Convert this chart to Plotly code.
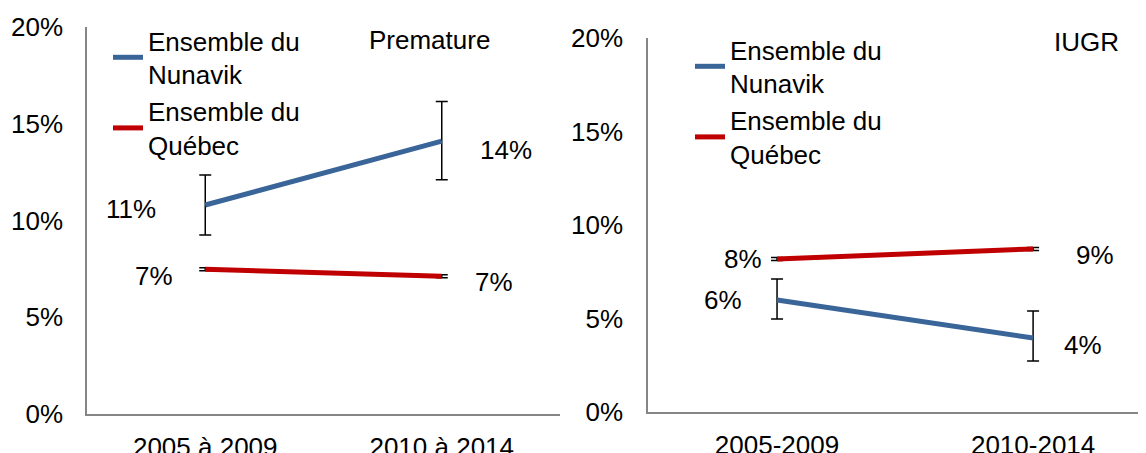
import plotly.graph_objects as go

# ---- data ----
periods_left = ["2005 à 2009", "2010 à 2014"]
periods_right = ["2005-2009", "2010-2014"]

prem_nunavik = [0.108, 0.141]
prem_nunavik_low = [0.0925, 0.121]
prem_nunavik_high = [0.1235, 0.1615]
prem_quebec = [0.0748, 0.0712]
prem_quebec_low = [0.0740, 0.0704]
prem_quebec_high = [0.0756, 0.0720]

iugr_nunavik = [0.0599, 0.0396]
iugr_nunavik_low = [0.0497, 0.0273]
iugr_nunavik_high = [0.0711, 0.0540]
iugr_quebec = [0.0818, 0.0872]
iugr_quebec_low = [0.0810, 0.0864]
iugr_quebec_high = [0.0826, 0.0880]

name_nunavik = "Ensemble du<br>Nunavik"
name_quebec = "Ensemble du<br>Québec"

BLUE = "#3A6598"
RED = "#C00000"
FONT = "Liberation Sans, Arial, sans-serif"
FS = 26

# page body has an 8px margin: figure sized to fill the rest of the window
OFF = 8
W, H = 1146 - OFF, 453 - OFF


def px(sx):
    return (sx - OFF) / W


def py(sy):
    return 1 - (sy - OFF) / H


fig = go.Figure()


def add_series(x, y, lo, hi, color, name, xa, ya, legend):
    fig.add_trace(go.Scatter(
        x=x, y=y, mode="lines", name=name,
        line=dict(color=color, width=5),
        error_y=dict(type="data", symmetric=False,
                     array=[h - v for h, v in zip(hi, y)],
                     arrayminus=[v - l for l, v in zip(lo, y)],
                     color="black", thickness=1.5, width=6),
        xaxis=xa, yaxis=ya, legend=legend, hoverinfo="skip",
    ))


add_series(periods_left, prem_nunavik, prem_nunavik_low, prem_nunavik_high, BLUE, name_nunavik, "x", "y", "legend")
add_series(periods_left, prem_quebec, prem_quebec_low, prem_quebec_high, RED, name_quebec, "x", "y", "legend")
add_series(periods_right, iugr_nunavik, iugr_nunavik_low, iugr_nunavik_high, BLUE, name_nunavik, "x2", "y2", "legend2")
add_series(periods_right, iugr_quebec, iugr_quebec_low, iugr_quebec_high, RED, name_quebec, "x2", "y2", "legend2")

# data labels (offsets are styling)
labels = [
    (periods_left, prem_nunavik, "x", "y", [(-47, "right", -4), (36, "left", -9)]),
    (periods_left, prem_quebec, "x", "y", [(-30, "right", -7), (31, "left", -6)]),
    (periods_right, iugr_nunavik, "x2", "y2", [(-33, "right", 0), (29, "left", -7)]),
    (periods_right, iugr_quebec, "x2", "y2", [(-13, "right", 0), (41, "left", -6)]),
]
for xs, ys, xa, ya, offs in labels:
    for xv, yv, (dx, anchor, dy) in zip(xs, ys, offs):
        fig.add_annotation(x=xv, y=yv, xref=xa, yref=ya, text=f"{round(yv * 100)}%",
                           showarrow=False, xshift=dx, yshift=dy, xanchor=anchor,
                           yanchor="middle", font=dict(family=FONT, size=FS, color="black"))

axis_common = dict(showgrid=False, zeroline=False, showline=True, linecolor="#868686",
                   linewidth=1.5, ticks="", automargin=False,
                   tickfont=dict(family=FONT, size=FS, color="black"))

fig.update_layout(
    width=W, height=H,
    margin=dict(l=0, r=0, t=0, b=0, pad=0, autoexpand=False),
    paper_bgcolor="white", plot_bgcolor="white",
    font=dict(family=FONT, size=FS, color="black"),
    xaxis=dict(domain=[px(87), px(560)], anchor="y", type="category",
               range=[-0.5, 1.5], ticklabelstandoff=9, **axis_common),
    yaxis=dict(domain=[py(414), py(27)], anchor="x", range=[0, 0.2],
               tickvals=[0, 0.05, 0.1, 0.15, 0.2], tickformat=".0%",
               ticklabelstandoff=17, **axis_common),
    xaxis2=dict(domain=[px(648), 1.0], anchor="y2", type="category",
                range=[-0.504, 1.441], ticklabelstandoff=9, **axis_common),
    yaxis2=dict(domain=[py(412), py(38)], anchor="x2", range=[0, 0.2],
                tickvals=[0, 0.05, 0.1, 0.15, 0.2], tickformat=".0%",
                ticklabelstandoff=18, **axis_common),
    legend=dict(x=px(108), y=py(17), xanchor="left", yanchor="top",
                bgcolor="rgba(0,0,0,0)", font=dict(family=FONT, size=FS),
                tracegroupgap=0, itemwidth=30),
    legend2=dict(x=px(690), y=py(26), xanchor="left", yanchor="top",
                 bgcolor="rgba(0,0,0,0)", font=dict(family=FONT, size=FS),
                 tracegroupgap=0, itemwidth=30),
    showlegend=True,
)

fig.add_annotation(x=px(429), y=py(40), xref="paper", yref="paper", text="Premature",
                   showarrow=False, xanchor="center", yanchor="middle",
                   font=dict(family=FONT, size=FS, color="black"))
fig.add_annotation(x=px(1086), y=py(42), xref="paper", yref="paper", text="IUGR",
                   showarrow=False, xanchor="center", yanchor="middle",
                   font=dict(family=FONT, size=FS, color="black"))

fig.write_html("out.html")
